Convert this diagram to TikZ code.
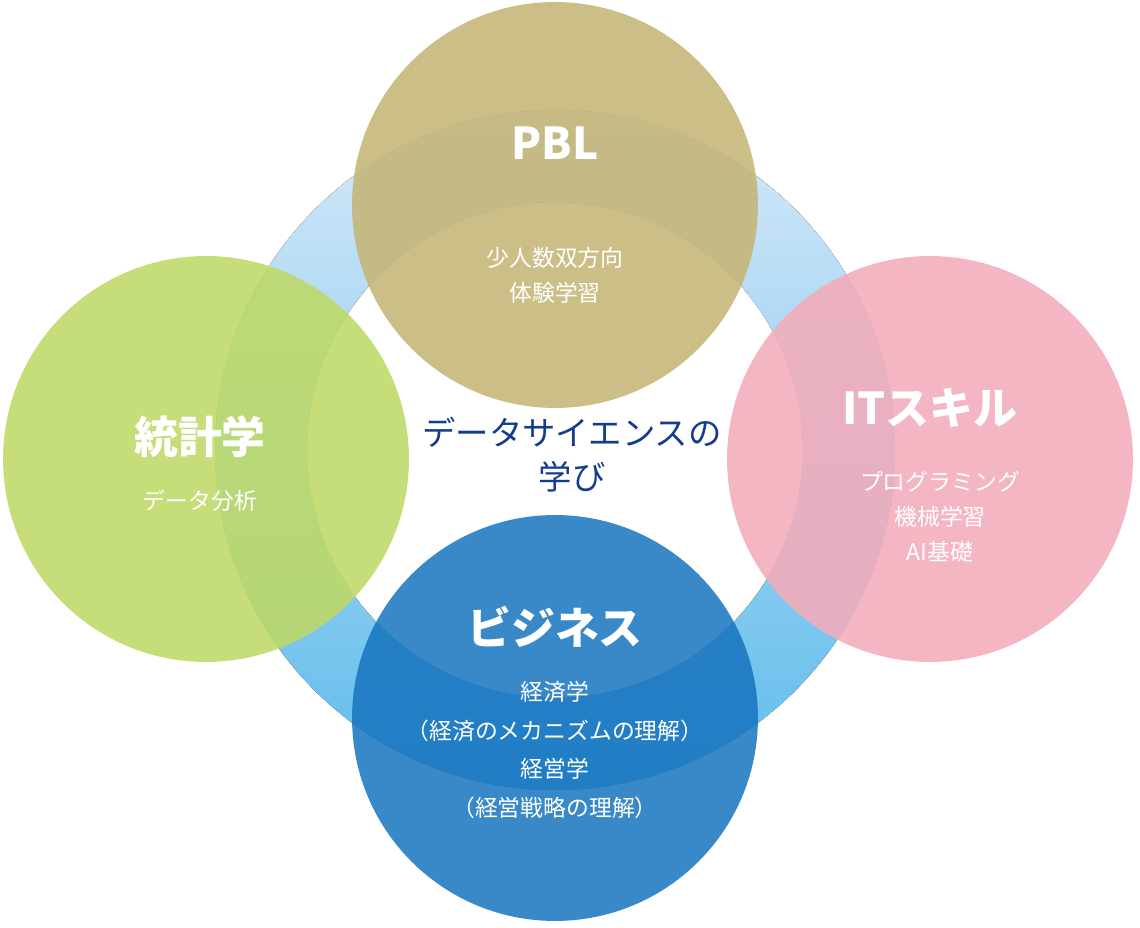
\documentclass[tikz,border=0pt]{standalone}
\usepackage{fontspec}
\setmainfont{Noto Sans CJK JP}
\usetikzlibrary{positioning}
\definecolor{pblcol}{RGB}{196,181,118}
\definecolor{statcol}{RGB}{190,217,102}
\definecolor{itcol}{RGB}{243,172,186}
\definecolor{bizcol}{RGB}{22,115,190}
\definecolor{ringtop}{RGB}{214,232,248}
\definecolor{ringbot}{RGB}{95,188,236}
\definecolor{centercol}{RGB}{20,60,140}

\begin{document}
\begin{tikzpicture}[x=0.02cm, y=-0.02cm,
  field/.style={circle, minimum size=8.12cm, inner sep=0pt, opacity=0.88, text opacity=1},
  heading/.style={text=white, font=\bfseries\fontsize{25}{28}\selectfont},
  detail/.style={text=white, align=center, font=\fontsize{13}{20}\selectfont}]
  \useasboundingbox (0,0) rectangle (1140,928);
  % ring
  \fill[even odd rule, top color=ringtop, bottom color=ringbot]
    (555,450) circle[radius=340] (555,450) circle[radius=248];

  \node[field, fill=pblcol] (pbl) at (555,205) {};
  \node[field, fill=statcol] (stat) at (206,459) {};
  \node[field, fill=itcol] (it) at (930,459) {};
  \node[field, fill=bizcol, opacity=0.85] (biz) at (555,718) {};

  \node[heading] (pbltitle) at (555,143) {PBL};
  \node[detail] (pbltext) at (555,275) {少人数双方向\\体験学習};

  \node[heading] (stattitle) at (200,437) {統計学};
  \node[detail] (stattext) at (200,501) {データ分析};

  \node[heading] (ittitle) at (930,408) {ITスキル};
  \node[detail] (ittext) at (940,517) {プログラミング\\機械学習\\AI基礎};

  \node[heading] (biztitle) at (555,627) {ビジネス};
  \node[detail, font=\fontsize{13}{22}\selectfont] (biztext) at (555,750)
    {経済学\\（経済のメカニズムの理解）\\経営学\\（経営戦略の理解）};

  \node[text=centercol, align=center, font=\fontsize{19}{25}\selectfont] (center) at (572,455)
    {データサイエンスの\\学び};
\end{tikzpicture}
\end{document}
